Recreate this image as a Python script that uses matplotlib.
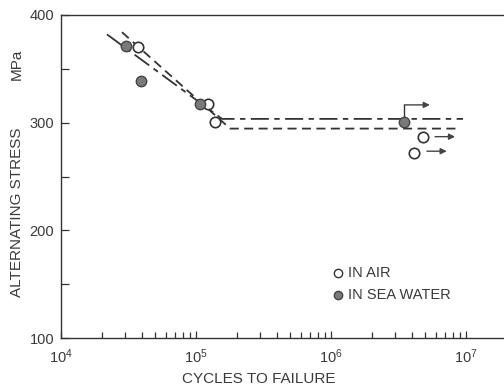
import matplotlib
matplotlib.use('Agg')
import matplotlib.pyplot as plt
from matplotlib.ticker import LogLocator, FixedLocator, NullFormatter
import numpy as np

plt.rcParams['font.family'] = ['Liberation Sans', 'DejaVu Sans']
plt.rcParams['mathtext.fontset'] = 'custom'
plt.rcParams['mathtext.rm'] = 'Liberation Sans'
plt.rcParams['mathtext.default'] = 'regular'

TXT = '#3a3a3a'

# data points (cycles, stress MPa)
air_cycles = [3.7e4, 1.23e5, 1.38e5, 4.8e6, 4.1e6]
air_stress = [370, 317, 301, 287, 272]
sea_cycles = [3.03e4, 3.9e4, 1.07e5, 3.5e6]
sea_stress = [371, 339, 317, 301]

# fitted S-N curves
air_fit_cycles = [2.83e4, 1.79e5, 9.0e6]
air_fit_stress = [384, 294.5, 294.5]
sea_fit_cycles = [2.19e4, 1.56e5, 9.5e6]
sea_fit_stress = [382, 303.5, 303.5]

# run-out arrows (start cycles, end cycles, stress)
runout_start = [3.5e6, 5.9e6, 5.14e6]
runout_end = [5.4e6, 8.3e6, 7.2e6]
runout_stress = [316.5, 287, 273.5]

fig = plt.figure(figsize=(5.04, 3.88), dpi=100)
ax = fig.add_axes([61 / 504, 50 / 388, 443 / 504, 323 / 388])

ax.plot(sea_fit_cycles, sea_fit_stress, color='#333333', lw=1.3,
        dashes=(10, 3, 3, 3))
ax.plot(air_fit_cycles, air_fit_stress, color='#333333', lw=1.3,
        dashes=(5, 3))

# run-out markers
ax.plot([sea_cycles[3], sea_cycles[3]], [sea_stress[3], runout_stress[0]],
        color='#333333', lw=1.0)
for x0, x1, s in zip(runout_start, runout_end, runout_stress):
    ax.annotate('', xy=(x1, s), xytext=(x0, s),
                arrowprops=dict(arrowstyle='-|>', color='#444444', lw=1.0,
                                mutation_scale=9, shrinkA=0, shrinkB=0))

ax.plot(air_cycles, air_stress, 'o', ms=7.5, mfc='white', mec='#333333',
        mew=1.2, zorder=5)
ax.plot(sea_cycles, sea_stress, 'o', ms=7.5, mfc='#7a7a7a', mec='#444444',
        mew=1.0, zorder=5)

ax.set_xscale('log')
ax.set_xlim(1e4, 10 ** (4 + 443 / 135))
ax.set_ylim(100, 400)

ax.set_xticks([1e4, 1e5, 1e6, 1e7])
ax.set_xticklabels(['$10^4$', '$10^5$', '$10^6$', '$10^7$'])
ax.xaxis.set_minor_locator(LogLocator(base=10, subs=np.arange(2, 10)))
ax.xaxis.set_minor_formatter(NullFormatter())
ax.set_yticks([100, 200, 300, 400])
ax.yaxis.set_minor_locator(FixedLocator([150, 250, 350]))

ax.tick_params(which='both', direction='in', colors='#333333',
               labelcolor=TXT, labelsize=10.5, width=0.9)
ax.tick_params(axis='x', which='major', length=5, pad=7)
ax.tick_params(axis='x', which='minor', length=4)
ax.tick_params(axis='y', which='major', length=6, pad=5)
ax.tick_params(axis='y', which='minor', length=6)

ax.spines['right'].set_visible(False)
for s in ['left', 'bottom', 'top']:
    ax.spines[s].set_color('#333333')
    ax.spines[s].set_linewidth(1.0)

ax.set_xlabel('CYCLES TO FAILURE', fontsize=11, color=TXT)
ax.xaxis.set_label_coords((259 - 61) / 443, -0.105)
fig.text(17 / 504, 1 - 212 / 388, 'ALTERNATING STRESS', rotation=90,
         ha='center', va='center', fontsize=11, color=TXT)
fig.text(17 / 504, 1 - 64 / 388, 'MPa', rotation=90,
         ha='center', va='center', fontsize=11, color=TXT)

# legend
ax.plot([0.625], [0.201], 'o', ms=6, mfc='white', mec='#333333', mew=1.0,
        transform=ax.transAxes, clip_on=False)
ax.plot([0.625], [0.133], 'o', ms=6, mfc='#7a7a7a', mec='#444444', mew=1.0,
        transform=ax.transAxes, clip_on=False)
ax.text(0.647, 0.201, 'IN AIR', transform=ax.transAxes, va='center',
        fontsize=10.5, color=TXT)
ax.text(0.647, 0.133, 'IN SEA WATER', transform=ax.transAxes, va='center',
        fontsize=10.5, color=TXT)

fig.savefig('out.png', dpi=100, facecolor='white')
